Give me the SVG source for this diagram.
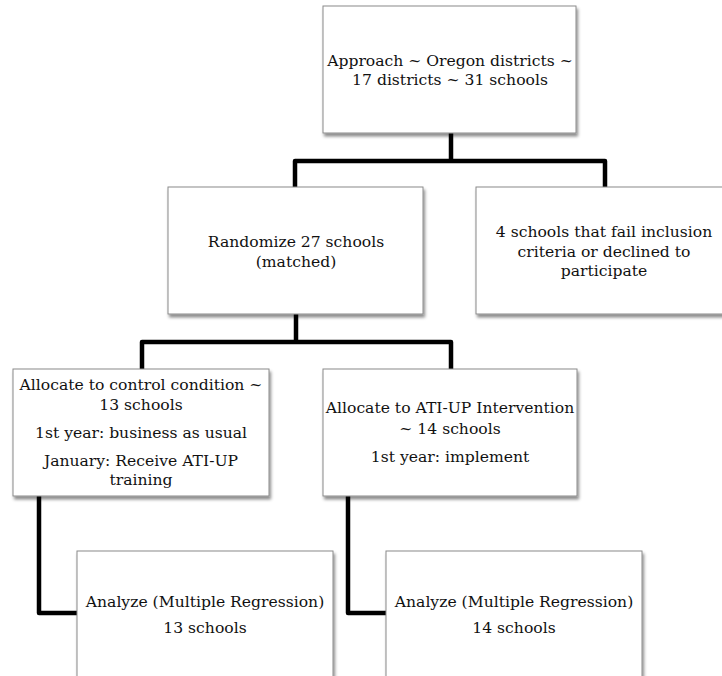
<svg xmlns="http://www.w3.org/2000/svg" width="722" height="676" viewBox="0 0 722 676">
<style>
.box{fill:#fff;stroke:#8a8a8a;stroke-width:1;filter:url(#sh)}
.t{font-family:"DejaVu Serif","Liberation Serif",serif;font-size:15.6px;fill:#111;text-anchor:middle}
.c{fill:none;stroke:#000;stroke-width:4.5;stroke-linejoin:round}
</style>
<defs>
<filter id="sh" x="-10%" y="-10%" width="120%" height="125%">
<feDropShadow dx="1.5" dy="3" stdDeviation="1.8" flood-color="#000" flood-opacity="0.45"/>
</filter>
</defs>
<g id="connectors">
<path class="c" d="M451 133 V161 M295 187 V161 H605 V187"/>
<path class="c" d="M296 314 V342 M142 369 V342 H451 V369"/>
<path class="c" d="M39 496 V613 H77"/>
<path class="c" d="M348 496 V613 H386"/>
</g>
<g id="approach">
<rect class="box" x="323" y="6" width="253" height="127"/>
<text class="t" x="450" y="66">Approach ~ Oregon districts ~</text>
<text class="t" x="450" y="85">17 districts ~ 31 schools</text>
</g>
<g id="randomize">
<rect class="box" x="168" y="187" width="255" height="127"/>
<text class="t" x="296" y="247">Randomize 27 schools</text>
<text class="t" x="296" y="267">(matched)</text>
</g>
<g id="excluded">
<rect class="box" x="476" y="187" width="260" height="127"/>
<text class="t" x="604" y="237">4 schools that fail inclusion</text>
<text class="t" x="604" y="257">criteria or declined to</text>
<text class="t" x="604" y="276">participate</text>
</g>
<g id="control">
<rect class="box" x="13" y="369" width="256" height="127"/>
<text class="t" x="141" y="390">Allocate to control condition ~</text>
<text class="t" x="141" y="410">13 schools</text>
<text class="t" x="141" y="438">1st year: business as usual</text>
<text class="t" x="141" y="466">January: Receive ATI-UP</text>
<text class="t" x="141" y="485">training</text>
</g>
<g id="intervention">
<rect class="box" x="323" y="369" width="254" height="127"/>
<text class="t" x="450" y="413">Allocate to ATI-UP Intervention</text>
<text class="t" x="450" y="434">~ 14 schools</text>
<text class="t" x="450" y="462">1st year: implement</text>
</g>
<g id="analyze-control">
<rect class="box" x="77" y="551" width="256" height="140"/>
<text class="t" x="205" y="607">Analyze (Multiple Regression)</text>
<text class="t" x="205" y="633">13 schools</text>
</g>
<g id="analyze-intervention">
<rect class="box" x="386" y="551" width="256" height="140"/>
<text class="t" x="514" y="607">Analyze (Multiple Regression)</text>
<text class="t" x="514" y="633">14 schools</text>
</g>
</svg>
